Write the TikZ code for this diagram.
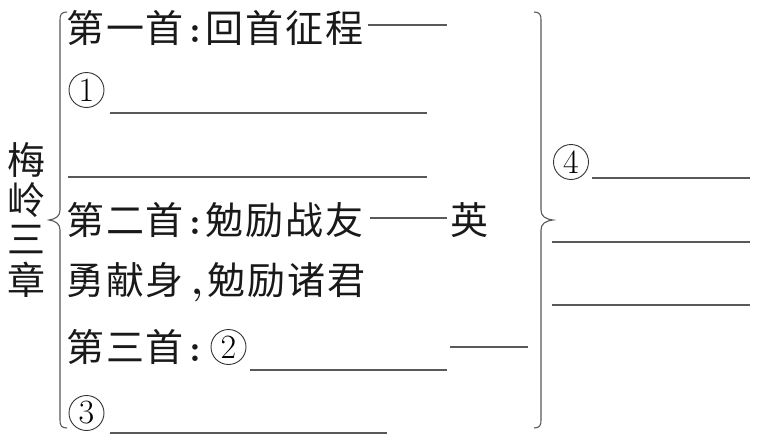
\documentclass[tikz,border=0pt]{standalone}
\usepackage{fontspec}
\newfontfamily\cjk[LetterSpace=5]{Noto Sans CJK SC}
\newcommand\mycolon{\hspace{5pt}{\normalfont\bfseries :}\hspace{5pt}}
\newcommand\mycomma{\hspace{7pt}{\normalfont\bfseries ,}\hspace{5pt}}
\begin{document}
\begin{tikzpicture}[x=1pt,y=-1pt,
  txt/.style={font=\cjk\fontsize{38}{38}\selectfont, inner sep=0pt, anchor=west, text=black!90},
  vtxt/.style={font=\cjk\fontsize{38}{38}\selectfont, inner sep=0pt, text=black!90},
  ln/.style={draw=black!65, line width=1.2pt},
  br/.style={draw=black!65, line width=1.1pt},
  circnum/.style={circle, draw=black!80, line width=0.9pt, minimum size=35pt, inner sep=0pt, font=\fontsize{34}{34}\selectfont}]
\useasboundingbox (0,0) rectangle (761,437);
% vertical title
\node[vtxt] (v1) at (26,160) {梅};
\node[vtxt] (v2) at (26,200) {岭};
\node[vtxt] (v3) at (26,240) {三};
\node[vtxt] (v4) at (26,280) {章};
% left brace
\draw[br] (67,12) .. controls (61,12) and (60,15) .. (60,20) -- (60,210)
  .. controls (60,216) and (56,219) .. (49,220)
  .. controls (56,221) and (60,224) .. (60,230) -- (60,420)
  .. controls (60,425) and (61,428) .. (67,428);
% right brace
\draw[br] (534,12) .. controls (540,12) and (541,15) .. (541,20) -- (541,210)
  .. controls (541,216) and (545,219) .. (553,220)
  .. controls (545,221) and (541,224) .. (541,230) -- (541,420)
  .. controls (541,425) and (540,428) .. (534,428);
% line 1
\node[txt] (t1) at (66,28) {第一首\mycolon 回首征程};
\coordinate (d1a) at (368,25); \coordinate (d1b) at (447,25);
\draw[ln] (d1a) -- (d1b);
% line 2
\node[circnum] (c1) at (86.5,90) {1};
\coordinate (u2a) at (110,113); \coordinate (u2b) at (427,113);
\draw[ln] (u2a) -- (u2b);
% line 3
\coordinate (u3a) at (68,177); \coordinate (u3b) at (427,177);
\draw[ln] (u3a) -- (u3b);
% line 4
\node[txt] (t4) at (66,220) {第二首\mycolon 勉励战友};
\coordinate (d4a) at (370,218); \coordinate (d4b) at (447,218);
\draw[ln] (d4a) -- (d4b);
\node[txt] (t4b) at (450,220) {英};
% line 5
\node[txt] (t5) at (66,282) {勇献身\mycomma 勉励诸君};
% line 6
\node[txt] (t6) at (66,347) {第三首\mycolon};
\node[circnum] (c2) at (228.5,347) {2};
\coordinate (u6a) at (250,370); \coordinate (u6b) at (447,370);
\draw[ln] (u6a) -- (u6b);
\coordinate (d6a) at (450,347); \coordinate (d6b) at (528,347);
\draw[ln] (d6a) -- (d6b);
% line 7
\node[circnum] (c3) at (86.5,413) {3};
\coordinate (u7a) at (110,433); \coordinate (u7b) at (387,433);
\draw[ln] (u7a) -- (u7b);
% right side
\node[circnum] (c4) at (571,162) {4};
\coordinate (r1a) at (592,178); \coordinate (r1b) at (750,178);
\draw[ln] (r1a) -- (r1b);
\coordinate (r2a) at (552,242); \coordinate (r2b) at (750,242);
\draw[ln] (r2a) -- (r2b);
\coordinate (r3a) at (552,305); \coordinate (r3b) at (750,305);
\draw[ln] (r3a) -- (r3b);
\end{tikzpicture}
\end{document}
